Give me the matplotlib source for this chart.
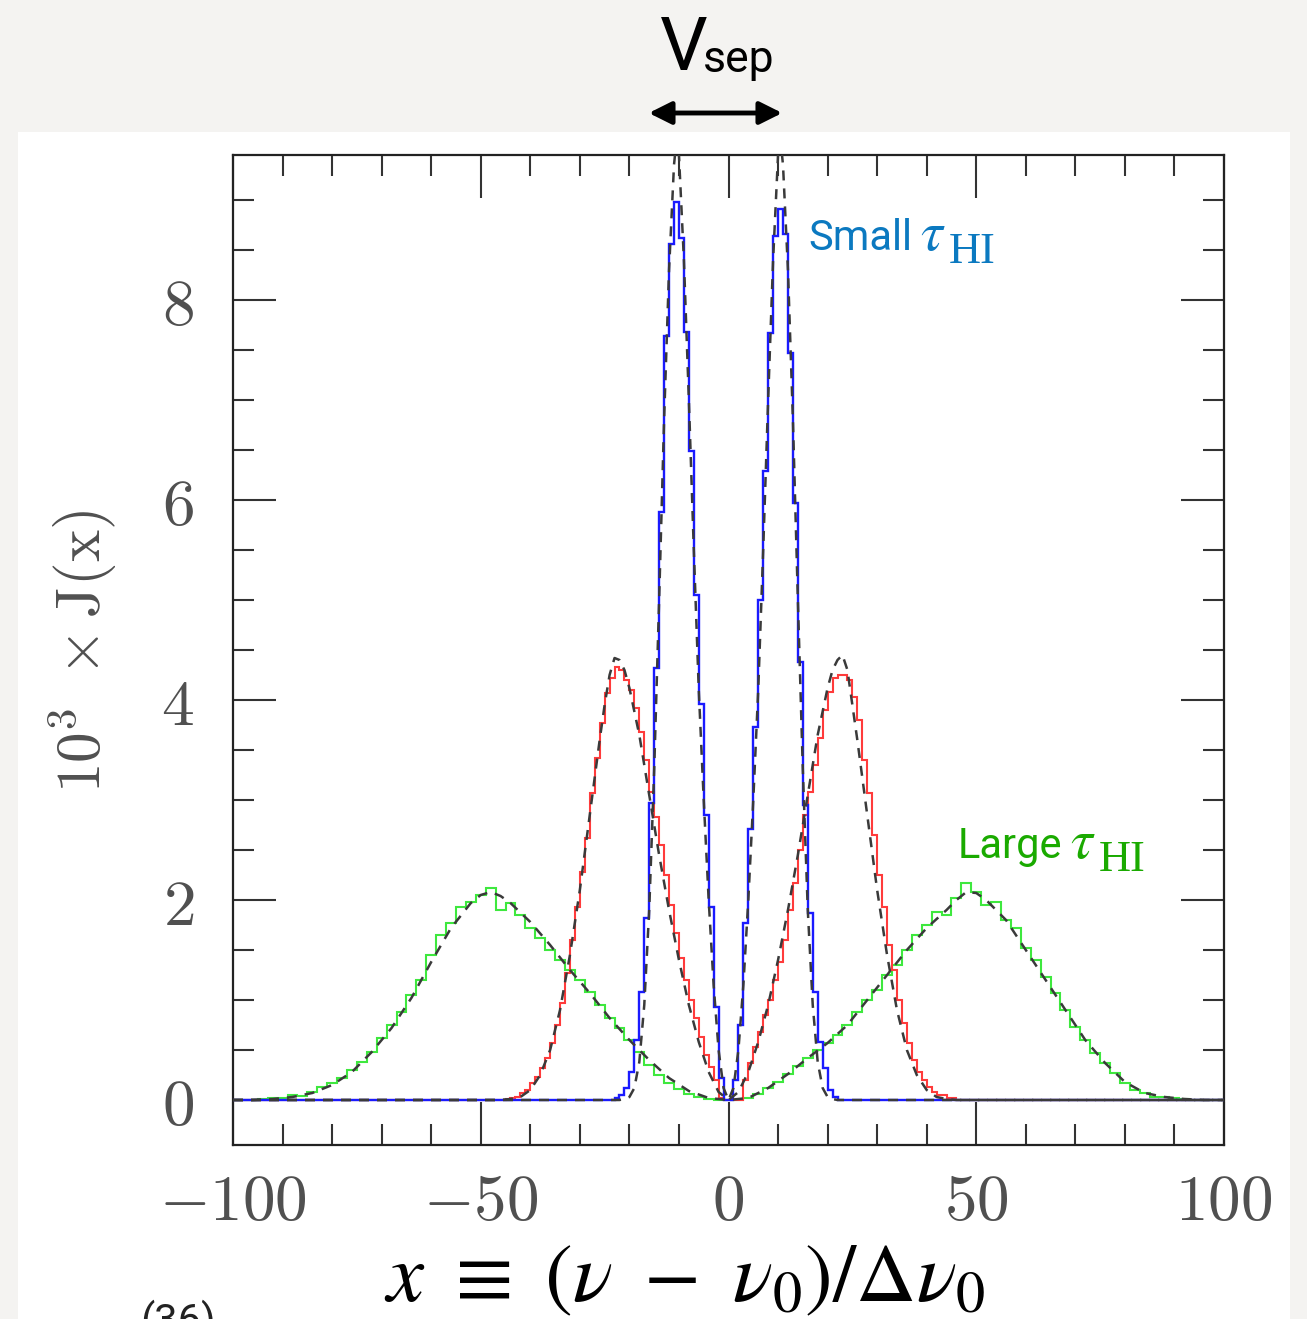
import numpy as np
import matplotlib
matplotlib.use("Agg")
import matplotlib.pyplot as plt
from matplotlib.patches import Rectangle, FancyArrowPatch

# histogram values (10^3 J), bin width 1 for blue/red, 2 for green
blue_start = -24
blue_vals = [0.0, 0.02, 0.05, 0.12, 0.28, 0.6, 1.08, 1.82, 2.97, 4.32,
             5.88, 7.64, 8.56, 8.98, 8.62, 7.68, 6.49, 5.05, 3.96, 2.85,
             1.93, 0.93, 0.22, 0.0, 0.0, 0.2, 0.75, 1.77, 2.71, 3.73,
             5.0, 6.29, 7.67, 8.64, 8.91, 8.66, 7.47, 5.97, 4.38, 2.95,
             1.87, 1.08, 0.58, 0.32, 0.1, 0.03, 0.0, 0.0]

red_start = -46
red_vals = [0.0, 0.01, 0.02, 0.03, 0.07, 0.1, 0.17, 0.23, 0.32, 0.42,
            0.57, 0.75, 0.97, 1.27, 1.6, 1.93, 2.28, 2.62, 3.07, 3.42,
            3.77, 4.07, 4.22, 4.33, 4.3, 4.2, 4.1, 3.92, 3.68, 3.4,
            3.08, 2.83, 2.55, 2.25, 1.95, 1.67, 1.42, 1.2, 1.0, 0.82,
            0.63, 0.45, 0.33, 0.2, 0.02, 0.0,
            0.0, 0.0, 0.0, 0.2, 0.37, 0.53, 0.68, 0.85, 1.0, 1.2,
            1.38, 1.6, 1.9, 2.17, 2.5, 2.85, 3.08, 3.35, 3.62, 3.9,
            4.08, 4.22, 4.25, 4.25, 4.2, 4.03, 3.8, 3.4, 3.07, 2.65,
            2.25, 1.93, 1.55, 1.3, 1.0, 0.77, 0.57, 0.4, 0.28, 0.2,
            0.13, 0.08, 0.05, 0.05, 0.02, 0.02]

green_start = -99
green_vals = [0.0, 0.0, 0.01, 0.02, 0.02, 0.05, 0.04, 0.08, 0.13, 0.17,
              0.22, 0.3, 0.38, 0.48, 0.62, 0.75, 0.88, 1.05, 1.2, 1.45,
              1.65, 1.77, 1.93, 1.98, 2.05, 2.12, 1.9, 1.97, 1.85, 1.72,
              1.62, 1.5, 1.4, 1.3, 1.2, 1.08, 0.95, 0.82, 0.72, 0.6,
              0.48, 0.35, 0.25, 0.17, 0.11, 0.06, 0.03, 0.01, 0.0,
              0.0, 0.0, 0.02, 0.06, 0.12, 0.18, 0.26, 0.34, 0.42, 0.5,
              0.57, 0.65, 0.75, 0.88, 1.0, 1.1, 1.25, 1.35, 1.5, 1.65,
              1.75, 1.88, 1.85, 2.02, 2.17, 2.08, 1.95, 1.98, 1.8, 1.72,
              1.52, 1.4, 1.23, 1.07, 0.9, 0.73, 0.6, 0.47, 0.37, 0.27,
              0.17, 0.1, 0.07, 0.03, 0.03, 0.02, 0.01, 0.0, 0.0, 0.0]

# analytic curves (dashed)
blue_dx = [-100, -22, -21, -20, -19, -18, -17, -16, -15, -14, -13, -12, -11,
           -10.5, -10, -9, -8, -7, -6, -5, -4, -3, -2, -1, 0,
           1, 2, 3, 4, 5, 6, 7, 8, 9, 10, 10.5, 11, 12, 13, 14, 15, 16,
           17, 18, 19, 20, 21, 22, 100]
blue_dy = [0.0, 0.0, 0.01, 0.03, 0.12, 0.38, 0.95, 1.9, 3.3, 5.0, 6.8, 8.3,
           9.35, 9.6, 9.45, 8.4, 7.0, 5.5, 4.1, 3.0, 2.0, 1.15, 0.5, 0.12, 0.0,
           0.12, 0.5, 1.15, 2.0, 3.0, 4.1, 5.5, 7.0, 8.4, 9.45, 9.6, 9.35,
           8.3, 6.8, 5.0, 3.3, 1.9, 0.95, 0.38, 0.12, 0.03, 0.01, 0.0, 0.0]

red_dx = [-100, -46, -44, -42, -40, -38, -36, -34, -32, -30, -28, -26, -25,
          -24, -23, -22, -21, -20, -18, -16, -14, -12, -10, -8, -6, -4, -2, 0,
          2, 4, 6, 8, 10, 12, 14, 16, 18, 20, 21, 22, 23, 24, 25, 26, 28,
          30, 32, 34, 36, 38, 40, 42, 44, 46, 100]
red_dy = [0.0, 0.0, 0.01, 0.03, 0.1, 0.25, 0.5, 0.9, 1.45, 2.1, 2.85, 3.6,
          3.95, 4.25, 4.42, 4.4, 4.3, 4.12, 3.65, 3.05, 2.45, 1.9, 1.4, 0.95,
          0.58, 0.28, 0.08, 0.0,
          0.08, 0.28, 0.58, 0.95, 1.4, 1.9, 2.45, 3.05, 3.65, 4.12, 4.3, 4.4,
          4.45, 4.3, 3.95, 3.6, 2.85, 2.1, 1.45, 0.9, 0.5, 0.25, 0.1, 0.03,
          0.01, 0.0, 0.0]

green_dx = [-100, -96, -92, -88, -84, -80, -76, -72, -68, -64, -60, -56, -52,
            -50, -48, -46, -44, -40, -36, -32, -28, -24, -20, -16, -12, -8,
            -4, 0, 4, 8, 12, 16, 20, 24, 28, 32, 36, 40, 44, 46, 48, 50, 52,
            56, 60, 64, 68, 72, 76, 80, 84, 88, 92, 96, 100]
green_dy = [0.0, 0.0, 0.01, 0.03, 0.07, 0.15, 0.28, 0.48, 0.72, 1.02, 1.38,
            1.72, 1.97, 2.05, 2.08, 2.04, 1.97, 1.78, 1.55, 1.3, 1.07, 0.82,
            0.6, 0.4, 0.22, 0.09, 0.02, 0.0, 0.02, 0.12, 0.26, 0.42, 0.57,
            0.75, 1.0, 1.25, 1.5, 1.72, 1.9, 2.0, 2.08, 2.07, 2.0, 1.8, 1.5,
            1.2, 0.9, 0.6, 0.37, 0.18, 0.07, 0.03, 0.01, 0.0, 0.0]

x_ticks = [-100, -50, 0, 50, 100]
y_ticks = [0, 2, 4, 6, 8]

plt.rcParams['mathtext.fontset'] = 'cm'

W, H = 1307, 1319
fig = plt.figure(figsize=(W / 100, H / 100), dpi=100)
fig.patch.set_facecolor('#f4f3f1')
# white panel behind the plot
fig.patches.append(Rectangle((18 / W, 0), (1290 - 18) / W, 1 - 132 / H,
                             transform=fig.transFigure, facecolor='white',
                             edgecolor='none', zorder=-10))

ax = fig.add_axes([233 / W, 1 - 1145 / H, (1224 - 233) / W, (1145 - 155) / H])
ax.set_zorder(1)
ax.set_xlim(-100, 100)
ax.set_ylim(-0.45, 9.45)


def padded(start, width, vals):
    # put the typed bins on a full -100..100 grid of zeros
    if width == 2:
        edges = np.arange(-101, 103, 2, dtype=float)
    else:
        edges = np.arange(-100, 101, 1, dtype=float)
    full = np.zeros(len(edges) - 1)
    i0 = int(round((start - edges[0]) / width))
    n = min(len(vals), len(full) - i0)
    full[i0:i0 + n] = vals[:n]
    return full, edges


gv, ge = padded(green_start, 2, green_vals)
rv, re_ = padded(red_start, 1, red_vals)
bv, be = padded(blue_start, 1, blue_vals)
ax.stairs(gv, ge, color='#3ee83e', lw=1.5, baseline=None, zorder=2)
ax.stairs(rv, re_, color='#ff3b3b', lw=1.5, baseline=None, zorder=3)
ax.stairs(bv, be, color='#1a1aff', lw=1.7, baseline=None, zorder=4)

for dx, dy in [(green_dx, green_dy), (red_dx, red_dy), (blue_dx, blue_dy)]:
    ax.plot(dx, dy, color='#3a3a3a', lw=1.8, ls=(0, (4, 3.2)), zorder=5)

ax.set_xticks(x_ticks)
ax.set_xticklabels([f'${v}$' for v in x_ticks])
ax.set_yticks(y_ticks)
ax.set_yticklabels([f'${v}$' for v in y_ticks])
ax.set_xticks(np.arange(-90, 100, 10), minor=True)
ax.set_yticks(np.arange(0, 9.5, 0.5), minor=True)
ax.tick_params(which='both', direction='in', top=True, right=True,
               color='#333333', width=1.5)
ax.tick_params(which='major', length=31, labelsize=47,
               labelcolor='#505050')
ax.tick_params(axis='x', which='major', pad=18)
ax.tick_params(axis='y', which='major', pad=28)
ax.tick_params(which='minor', length=15)
for s in ax.spines.values():
    s.set_linewidth(1.6)
    s.set_color('#222222')

fig.text(83 / W, 1 - 652 / H, r'$10^3\ \times \mathrm{J}(\mathrm{x})$',
         rotation=90, ha='center', va='center', fontsize=44, color='#505050')

# x label, partly cut by the bottom edge
fig.text(685 / W, 1 - 1278 / H,
         r'$x\ \equiv\ (\nu\ -\ \nu_0)/\Delta\nu_0$',
         ha='center', va='center', fontsize=60, color='black',
         math_fontfamily='stix')
fig.text(140 / W, 1 - 1300 / H, '(36)', ha='left', va='top', fontsize=30,
         color='#222222', family='Roboto')

# V_sep and arrow
fig.text(660 / W, 1 - 70 / H, 'V', ha='left', va='baseline', fontsize=54,
         family='Roboto', color='black')
fig.text(703 / W, 1 - 72 / H, 'sep', ha='left', va='baseline', fontsize=32,
         family='Roboto', color='black')
fig.patches.append(FancyArrowPatch(
    (646 / W, 1 - 113 / H), (785 / W, 1 - 113 / H), transform=fig.transFigure,
    arrowstyle='<|-|>', mutation_scale=34, lw=3.5, color='black'))

# curve labels: word, tau and subscript
for txt, col, x0, yb in [('Small', '#0b79c0', 808, 250),
                         ('Large', '#1aaa00', 958, 858)]:
    fig.text(x0 / W, 1 - yb / H, txt, ha='left', va='baseline',
             fontsize=30, color=col, family='Roboto')
    fig.text((x0 + 112) / W, 1 - yb / H, r'$\tau$', ha='left',
             va='baseline', fontsize=40, color=col, math_fontfamily='stix')
    fig.text((x0 + 141) / W, 1 - (yb + 13) / H, 'HI', ha='left',
             va='baseline', fontsize=32, color=col, family='Liberation Serif')

fig.savefig('out.png', dpi=100, facecolor=fig.get_facecolor())
